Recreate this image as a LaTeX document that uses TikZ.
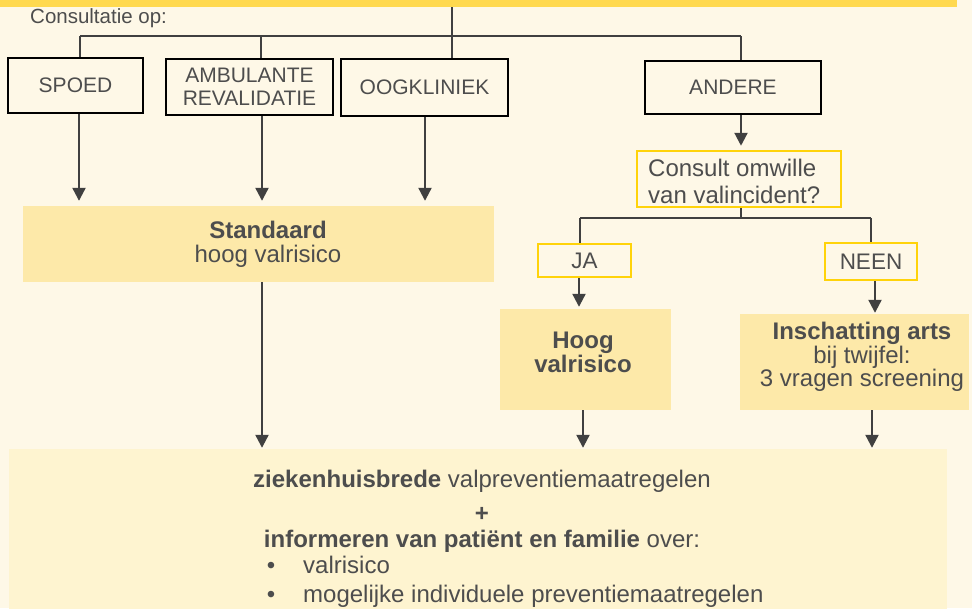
\documentclass[tikz,border=0pt]{standalone}
\usepackage{fontspec}
\setmainfont{Liberation Sans}
\usetikzlibrary{arrows.meta}
\definecolor{bg}{HTML}{FEF8E7}
\definecolor{topbar}{HTML}{FFD94F}
\definecolor{stdfill}{HTML}{FDE9A9}
\definecolor{botfill}{HTML}{FEF4D0}
\definecolor{ybord}{HTML}{FFD30A}
\definecolor{txt}{HTML}{4D4D4D}
\definecolor{ln}{HTML}{404040}
\begin{document}
\begin{tikzpicture}[x=1pt,y=-1pt,
  blackbox/.style={draw=black,line width=2.5pt,inner sep=0pt,text=txt,align=center,font=\fontsize{21}{23.5}\selectfont},
  ybox/.style={draw=ybord,line width=2.5pt,inner sep=0pt,text=txt},
  fillbox/.style={fill=stdfill,inner sep=0pt},
  lbl/.style={inner sep=0pt,text=txt,align=center,font=\fontsize{24}{24}\selectfont},
  conn/.style={draw=ln,line width=2.2pt},
  arr/.style={conn,-{Triangle[length=13pt,width=13pt]}}]
\fill[bg] (0,0) rectangle (972,608);
\useasboundingbox (0,0) rectangle (972,608);
\fill[topbar] (0,0) rectangle (957,7);
\coordinate (top) at (452,7);
\node[anchor=base west,inner sep=0pt,text=txt,font=\fontsize{20.5}{22}\selectfont] (consop) at (30,23) {Consultatie op:};
% top row boxes
\node[blackbox,minimum width=135pt,minimum height=55pt] (spoed) at (75.5,85.5) {SPOED};
\node[blackbox,minimum width=167pt,minimum height=56pt] (amb) at (249.5,87) {AMBULANTE\\REVALIDATIE};
\node[blackbox,minimum width=167pt,minimum height=57pt] (oog) at (424.5,87.5) {OOGKLINIEK};
\node[blackbox,minimum width=176pt,minimum height=53pt] (andere) at (733,87.5) {ANDERE};
% fill boxes
\node[fillbox,minimum width=471pt,minimum height=76pt] (std) at (258.5,244) {};
\node[lbl] (stdtxt) at (268,244) {\textbf{Standaard}\\hoog valrisico};
\node[ybox,minimum width=204pt,minimum height=56pt] (consult) at (739,179) {};
\node[lbl,anchor=west,align=left,font=\fontsize{24}{27}\selectfont] (consulttxt) at (648,181) {Consult omwille\\van valincident?};
\node[ybox,minimum width=93pt,minimum height=33pt,font=\fontsize{22.5}{24}\selectfont] (ja) at (584.5,260.5) {JA};
\node[ybox,minimum width=92pt,minimum height=37pt,font=\fontsize{22.5}{24}\selectfont] (neen) at (871,261.5) {NEEN};
\node[fillbox,minimum width=171pt,minimum height=101pt] (hoog) at (585.5,359.5) {};
\node[lbl] (hoogtxt) at (583,352) {\textbf{Hoog}\\\textbf{valrisico}};
\node[fillbox,minimum width=229pt,minimum height=96pt] (insch) at (854.5,362) {};
\node[lbl,font=\fontsize{24}{23.5}\selectfont] (inschtxt) at (862,357) {\textbf{Inschatting arts}\\bij twijfel:\\3 vragen screening};
% bottom box
\node[fill=botfill,inner sep=0pt,minimum width=938pt,minimum height=165pt] (bottom) at (478,531.5) {};
\begin{scope}[every node/.style={inner sep=0pt,text=txt,font=\fontsize{24}{26}\selectfont}]
\node[anchor=base] (b1) at (482,487) {\textbf{ziekenhuisbrede} valpreventiemaatregelen};
\node[anchor=base] (b2) at (482,521) {\textbf{+}};
\node[anchor=base] (b3) at (482,547) {\textbf{informeren van patiënt en familie} over:};
\node[anchor=base] (b4d) at (271,573) {•};
\node[anchor=base west] (b4) at (303,573) {valrisico};
\node[anchor=base] (b5d) at (271,602) {•};
\node[anchor=base west] (b5) at (303,602) {mogelijke individuele preventiemaatregelen};
\end{scope}
% tree at top
\coordinate (h1) at (80,36);
\coordinate (h2) at (261,36);
\coordinate (h3) at (452,36);
\coordinate (h4) at (741,36);
\draw[conn] (top) -- (h3 |- oog.north);
\draw[conn] (h1) -- (h4);
\draw[conn] (h1) -- (h1 |- spoed.north);
\draw[conn] (h2) -- (h2 |- amb.north);
\draw[conn] (h4) -- (h4 |- andere.north);
% arrows to Standaard
\coordinate (a1) at (79,113);
\coordinate (a2) at (262,115);
\coordinate (a3) at (425,116);
\draw[arr,shorten >=5pt] (a1 |- spoed.south) -- (a1 |- std.north);
\draw[arr,shorten >=5pt] (a2 |- amb.south) -- (a2 |- std.north);
\draw[arr,shorten >=5pt] (a3 |- oog.south) -- (a3 |- std.north);
% andere to consult
\coordinate (c1) at (741,114);
\draw[arr,shorten >=4pt] (c1 |- andere.south) -- (c1 |- consult.north);
% consult split
\coordinate (s0) at (741,218);
\coordinate (sj) at (580,218);
\coordinate (sn) at (871,218);
\draw[conn] (c1 |- consult.south) -- (s0);
\draw[conn] (sj) -- (sn);
\draw[conn] (sj) -- (sj |- ja.north);
\draw[conn] (sn) -- (sn |- neen.north);
% ja/neen arrows
\coordinate (j1) at (579,280);
\coordinate (n1) at (875,280);
\draw[arr,shorten >=2pt] (j1 |- ja.south) -- (j1 |- hoog.north);
\draw[arr,shorten >=1pt] (n1 |- neen.south) -- (n1 |- insch.north);
% arrows to bottom
\coordinate (d1) at (262,400);
\coordinate (d2) at (583,400);
\coordinate (d3) at (872,400);
\draw[arr,shorten >=1pt] (d1 |- std.south) -- (d1 |- bottom.north);
\draw[arr,shorten >=1pt] (d2 |- hoog.south) -- (d2 |- bottom.north);
\draw[arr,shorten >=1pt] (d3 |- insch.south) -- (d3 |- bottom.north);
\end{tikzpicture}
\end{document}
